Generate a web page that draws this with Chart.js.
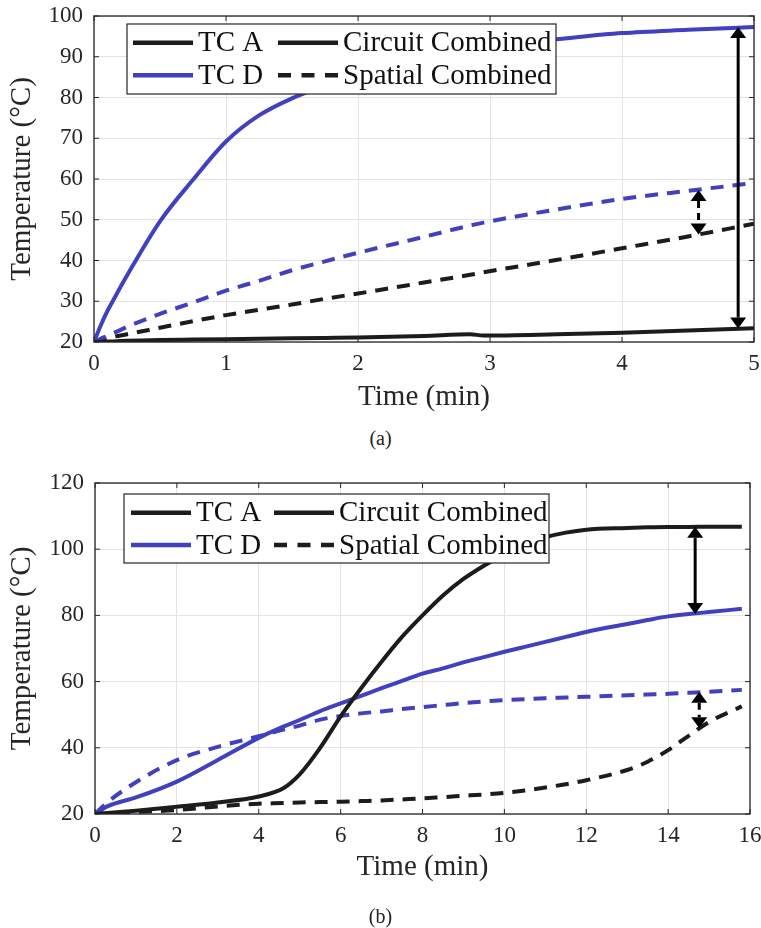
<!DOCTYPE html>
<html>
<head>
<meta charset="utf-8">
<script src="https://cdn.jsdelivr.net/npm/chart.js@4.4.0/dist/chart.umd.min.js"></script>
<style>
  body { margin: 0; background: #fff; }
  #wrap { position: relative; width: 761px; height: 928px; }
  canvas { position: absolute; left: 0; }
  .cap { position: absolute; left: 0; width: 761px; text-align: center;
         font-family: "Liberation Serif", serif; font-size: 20px; color: #222; }
</style>
</head>
<body>
<div id="wrap">
  <canvas id="chartA" width="761" height="420" style="top:0"></canvas>
  <div class="cap" style="top:427px">(a)</div>
  <canvas id="chartB" width="761" height="460" style="top:468px"></canvas>
  <div class="cap" style="top:905px">(b)</div>
</div>
<script>
// ---- data (a): first 5 minutes ----
const timeA = [0, 0.05, 0.1, 0.15, 0.25, 0.5, 0.75, 1, 1.25, 1.5, 1.75, 2, 2.5, 2.85, 2.95, 3.5, 4, 4.5, 5];
const tcA_circuitA = [20, 20.05, 20.1, 20.15, 20.3, 20.5, 20.6, 20.7, 20.8, 20.9, 21.0, 21.1, 21.5, 21.9, 21.6, 21.9, 22.3, 22.8, 23.4];
const tcD_circuitA = [20, 24, 27.5, 30.5, 36.3, 49.6, 59.8, 69.2, 75.6, 79.8, 82.9, 85.6, 89.8, 92, 92.6, 94.3, 95.8, 96.6, 97.3];
const tcD_spatialA = [20, 20.8, 21.5, 22.2, 23.7, 26.9, 29.7, 32.6, 35.0, 37.6, 39.8, 41.9, 45.8, 48.6, 49.3, 52.5, 55.1, 57.1, 59.0];
const tcA_spatialA = [20, 20.5, 20.9, 21.3, 21.9, 23.5, 25.1, 26.6, 27.9, 29.2, 30.6, 31.9, 34.6, 36.5, 37.1, 40.1, 43.0, 45.9, 49.0];
const xTicksA = [0, 1, 2, 3, 4, 5];
const yTicksA = [20, 30, 40, 50, 60, 70, 80, 90, 100];
const arrowTimeA = [4.88, 4.58];
const arrowHighA = [97.3, 57.3];
const arrowLowA = [23.3, 46.4];

// ---- data (b): full 16 minutes ----
const timeB = [0, 0.3, 1, 2, 3, 4, 4.6, 5, 5.5, 6, 6.5, 7, 7.5, 8, 8.5, 9, 9.5, 10, 10.5, 11, 11.5, 12, 13, 13.5, 14, 14.5, 15, 15.8];
const tcA_circuitB = [20, 20.3, 21, 22.2, 23.5, 25.3, 27.8, 32, 40, 49.5, 58, 66, 73.5, 80, 86, 91, 95, 98.5, 101.5, 103.6, 105, 105.9, 106.4, 106.6, 106.7, 106.7, 106.8, 106.8];
const tcD_circuitB = [20, 22.3, 25, 29.8, 36.3, 43, 46.4, 48.4, 51.1, 53.4, 55.7, 58, 60.2, 62.4, 64, 65.8, 67.4, 69, 70.5, 72, 73.5, 75, 77.4, 78.6, 79.7, 80.4, 81.0, 82.0];
const tcD_spatialB = [20, 23.5, 29.6, 36.3, 40.3, 43.5, 45.5, 46.7, 48.5, 49.6, 50.4, 51, 51.7, 52.3, 52.9, 53.5, 54, 54.4, 54.7, 55, 55.2, 55.4, 55.9, 56.1, 56.3, 56.6, 56.9, 57.5];
const tcA_spatialB = [20, 20.1, 20.6, 21.2, 22.3, 23.1, 23.3, 23.5, 23.6, 23.7, 23.9, 24.1, 24.4, 24.7, 25.1, 25.5, 25.9, 26.4, 27.1, 28, 29, 30.2, 33.3, 35.8, 39.3, 43.6, 47.8, 52.5];
const xTicksB = [0, 2, 4, 6, 8, 10, 12, 14, 16];
const yTicksB = [20, 40, 60, 80, 100, 120];
const arrowTimeB = [14.66, 14.76];
const arrowHighB = [106.8, 56.9];
const arrowLowB = [80.4, 45.9];

const legendLabels = ['TC A', 'TC D', 'Circuit Combined', 'Spatial Combined'];

const BLACK = '#1c1c1c';
const BLUE = '#4040c0';
const FONT = '"Liberation Serif", "Times New Roman", serif';
const DASH = [13, 9];

const pts = (xs, ys) => xs.map((x, i) => ({ x: x, y: ys[i] }));

function line(data, color, dashed) {
  return {
    data: data,
    borderColor: color,
    borderWidth: 4,
    borderDash: dashed ? DASH : [],
    pointRadius: 0,
    fill: false,
    cubicInterpolationMode: 'monotone'
  };
}

// frame around the plot with small inward ticks (matlab look)
const framePlugin = {
  id: 'frame',
  afterDraw(chart) {
    const { ctx, chartArea: a, scales } = chart;
    ctx.save();
    ctx.strokeStyle = '#262626';
    ctx.lineWidth = 1.3;
    ctx.strokeRect(a.left, a.top, a.right - a.left, a.bottom - a.top);
    ctx.lineWidth = 1;
    scales.x.ticks.forEach(t => {
      const px = scales.x.getPixelForValue(t.value);
      ctx.beginPath();
      ctx.moveTo(px, a.bottom); ctx.lineTo(px, a.bottom - 5);
      ctx.moveTo(px, a.top); ctx.lineTo(px, a.top + 5);
      ctx.stroke();
    });
    scales.y.ticks.forEach(t => {
      const py = scales.y.getPixelForValue(t.value);
      ctx.beginPath();
      ctx.moveTo(a.left, py); ctx.lineTo(a.left + 5, py);
      ctx.moveTo(a.right, py); ctx.lineTo(a.right - 5, py);
      ctx.stroke();
    });
    ctx.restore();
  }
};

// double headed arrows + boxed two-column legend
const overlayPlugin = {
  id: 'overlay',
  afterDatasetsDraw(chart, args, opts) {
    const { ctx, scales } = chart;
    ctx.save();
    opts.arrows.time.forEach((t, i) => {
      const x = scales.x.getPixelForValue(t);
      const yHi = scales.y.getPixelForValue(opts.arrows.high[i]);
      const yLo = scales.y.getPixelForValue(opts.arrows.low[i]);
      const hw = 8, hh = 11;
      ctx.strokeStyle = '#000';
      ctx.fillStyle = '#000';
      ctx.lineWidth = 3;
      ctx.setLineDash(opts.arrows.dashed[i] ? [7, 5] : []);
      ctx.beginPath();
      ctx.moveTo(x, yHi + hh); ctx.lineTo(x, yLo - hh);
      ctx.stroke();
      ctx.setLineDash([]);
      ctx.beginPath();
      ctx.moveTo(x, yHi); ctx.lineTo(x - hw, yHi + hh); ctx.lineTo(x + hw, yHi + hh); ctx.closePath();
      ctx.fill();
      ctx.beginPath();
      ctx.moveTo(x, yLo); ctx.lineTo(x - hw, yLo - hh); ctx.lineTo(x + hw, yLo - hh); ctx.closePath();
      ctx.fill();
    });

    const L = opts.legend;
    ctx.fillStyle = '#fff';
    ctx.fillRect(L.x, L.y, L.w, L.h);
    ctx.strokeStyle = '#262626';
    ctx.lineWidth = 1.2;
    ctx.strokeRect(L.x, L.y, L.w, L.h);
    ctx.font = '29px ' + FONT;
    ctx.textBaseline = 'middle';
    L.items.forEach((it, i) => {
      const x0 = L.x + L.cols[it.col];
      const y = L.y + L.rows[it.row];
      ctx.strokeStyle = it.color;
      ctx.lineWidth = 4.5;
      ctx.setLineDash(it.dashed ? [13, 10.5] : []);
      ctx.beginPath();
      ctx.moveTo(x0, y); ctx.lineTo(x0 + 60, y);
      ctx.stroke();
      ctx.setLineDash([]);
      ctx.fillStyle = '#111';
      ctx.fillText(legendLabels[i], x0 + 65, y + 1);
    });
    ctx.restore();
  }
};

const legendItems = [
  { color: BLACK, dashed: false, col: 0, row: 0 },
  { color: BLUE, dashed: false, col: 0, row: 1 },
  { color: BLACK, dashed: false, col: 1, row: 0 },
  { color: BLACK, dashed: true, col: 1, row: 1 }
];

function makeChart(id, cfg) {
  return new Chart(document.getElementById(id), {
    type: 'line',
    data: {
      datasets: [
        line(pts(cfg.time, cfg.tcA), BLACK, false),
        line(pts(cfg.time, cfg.tcD), BLUE, false),
        line(pts(cfg.time, cfg.tcDs), BLUE, true),
        line(pts(cfg.time, cfg.tcAs), BLACK, true)
      ]
    },
    options: {
      responsive: false,
      animation: false,
      devicePixelRatio: 1,
      layout: { padding: cfg.padding },
      plugins: {
        legend: { display: false },
        tooltip: { enabled: false },
        overlay: { arrows: cfg.arrows, legend: cfg.legend }
      },
      scales: {
        x: {
          type: 'linear', min: cfg.xTicks[0], max: cfg.xTicks[cfg.xTicks.length - 1],
          afterBuildTicks: s => { s.ticks = cfg.xTicks.map(v => ({ value: v })); },
          afterFit: s => { s.height = cfg.xHeight; s.paddingLeft = 0; s.paddingRight = 0; },
          grid: { color: '#e3e3e3', lineWidth: 1, drawTicks: false },
          border: { display: false },
          ticks: { padding: 8, color: '#262626', font: { family: FONT, size: 23 }, maxRotation: 0 },
          title: { display: true, text: 'Time (min)', color: '#262626',
                   font: { family: FONT, size: 29 }, padding: { top: 0, bottom: cfg.xTitlePad } }
        },
        y: {
          type: 'linear', min: cfg.yTicks[0], max: cfg.yTicks[cfg.yTicks.length - 1],
          afterBuildTicks: s => { s.ticks = cfg.yTicks.map(v => ({ value: v })); },
          afterFit: s => { s.width = cfg.yWidth; s.paddingTop = 0; s.paddingBottom = 0; },
          grid: { color: '#e3e3e3', lineWidth: 1, drawTicks: false },
          border: { display: false },
          ticks: { padding: 11, color: '#262626', font: { family: FONT, size: 23 } },
          title: { display: true, text: 'Temperature (°C)', color: '#262626',
                   font: { family: FONT, size: 29 }, padding: { top: 5, bottom: 0 } }
        }
      }
    },
    plugins: [framePlugin, overlayPlugin]
  });
}

makeChart('chartA', {
  time: timeA, tcA: tcA_circuitA, tcD: tcD_circuitA, tcDs: tcD_spatialA, tcAs: tcA_spatialA,
  xTicks: xTicksA, yTicks: yTicksA,
  padding: { left: 0, right: 7, top: 16, bottom: 0 },
  xHeight: 78, yWidth: 94, xTitlePad: 5,
  arrows: { time: arrowTimeA, high: arrowHighA, low: arrowLowA, dashed: [false, true] },
  legend: { x: 127, y: 24, w: 429, h: 70, cols: [6, 151], rows: [18.7, 51.3], items: legendItems }
});

makeChart('chartB', {
  time: timeB, tcA: tcA_circuitB, tcD: tcD_circuitB, tcDs: tcD_spatialB, tcAs: tcA_spatialB,
  xTicks: xTicksB, yTicks: yTicksB,
  padding: { left: 0, right: 11, top: 15, bottom: 0 },
  xHeight: 114, yWidth: 95, xTitlePad: 43,
  arrows: { time: arrowTimeB, high: arrowHighB, low: arrowLowB, dashed: [false, true] },
  legend: { x: 124, y: 26, w: 425, h: 69, cols: [7, 150], rows: [18.7, 51], items: legendItems }
});
</script>
</body>
</html>
